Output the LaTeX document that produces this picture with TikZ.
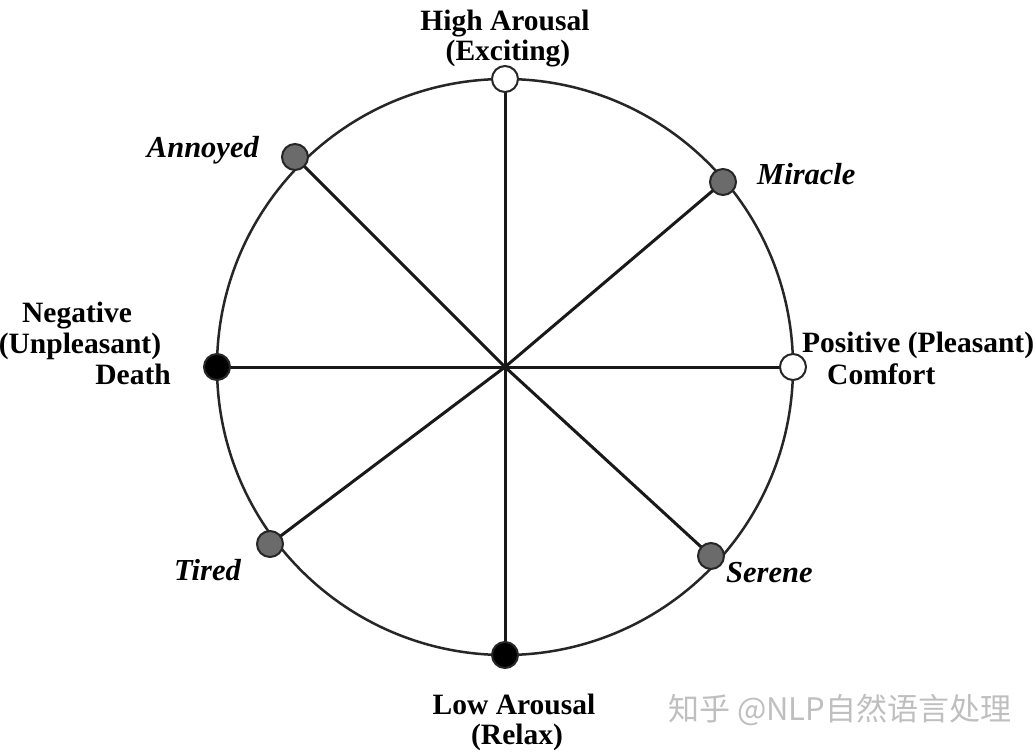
\documentclass[tikz,border=0pt]{standalone}
\usepackage{fontspec}
\setmainfont{Liberation Serif}
\newfontfamily\cjk{Noto Sans CJK SC}
\begin{document}
\begin{tikzpicture}[x=1pt,y=-1pt,
  lbl/.style={font=\fontsize{29.5}{30}\selectfont\bfseries, inner sep=0pt},
  ilbl/.style={font=\fontsize{30.5}{30}\selectfont\bfseries\itshape, inner sep=0pt},
  spoke/.style={line width=3pt, black!90},
  rim/.style={line width=2.5pt, black!85},
  dotbase/.style={circle, draw=black!85, line width=2pt, minimum size=26pt, inner sep=0pt},
  whitedot/.style={dotbase, fill=white},
  greydot/.style={dotbase, fill=black!58},
  blackdot/.style={dotbase, fill=black}]
\useasboundingbox (0,0) rectangle (1036,752);
\fill[white] (0,0) rectangle (1036,752);
\coordinate (c) at (505,367);
% dots positions
\coordinate (pT) at (505,79);
\coordinate (pB) at (505,655);
\coordinate (pL) at (217,367);
\coordinate (pR) at (793,367);
\coordinate (pA) at (295,157);
\coordinate (pM) at (723,182);
\coordinate (pTi) at (270,544);
\coordinate (pS) at (711,556);
\draw[rim] (c) circle (288);
\foreach \p in {pT,pB,pL,pR,pA,pM,pTi,pS} \draw[spoke] (c) -- (\p);
\node[whitedot] (top) at (pT) {};
\node[blackdot] (bottom) at (pB) {};
\node[blackdot] (left) at (pL) {};
\node[whitedot] (right) at (pR) {};
\node[greydot] (annoyed) at (pA) {};
\node[greydot] (miracle) at (pM) {};
\node[greydot] (tired) at (pTi) {};
\node[greydot] (serene) at (pS) {};
% labels
\node[lbl, anchor=base] (t1) at (505,31) {High Arousal};
\node[lbl, anchor=base] (t2) at (508,61) {(Exciting)};
\node[lbl, anchor=base] (b1) at (514,714) {Low Arousal};
\node[lbl, anchor=base] (b2) at (517,744) {(Relax)};
\node[lbl, anchor=base] (l1) at (77,322) {Negative};
\node[lbl, anchor=base] (l2) at (80,353) {(Unpleasant)};
\node[lbl, anchor=base east] (l3) at (171,384) {Death};
\node[lbl, anchor=base west] (r1) at (802,352) {Positive (Pleasant)};
\node[lbl, anchor=base west] (r2) at (827,384) {Comfort};
\node[ilbl, anchor=base east] (la) at (259,157) {Annoyed};
\node[ilbl, anchor=base west] (lm) at (757,184) {Miracle};
\node[ilbl, anchor=base east] (lt) at (241,580) {Tired};
\node[ilbl, anchor=base west] (ls) at (726,582) {Serene};
\node[anchor=base west, inner sep=0pt, text=black!25, font=\cjk\fontsize{31}{32}\selectfont] (wm) at (668,720) {知乎 @NLP自然语言处理};
\end{tikzpicture}
\end{document}
